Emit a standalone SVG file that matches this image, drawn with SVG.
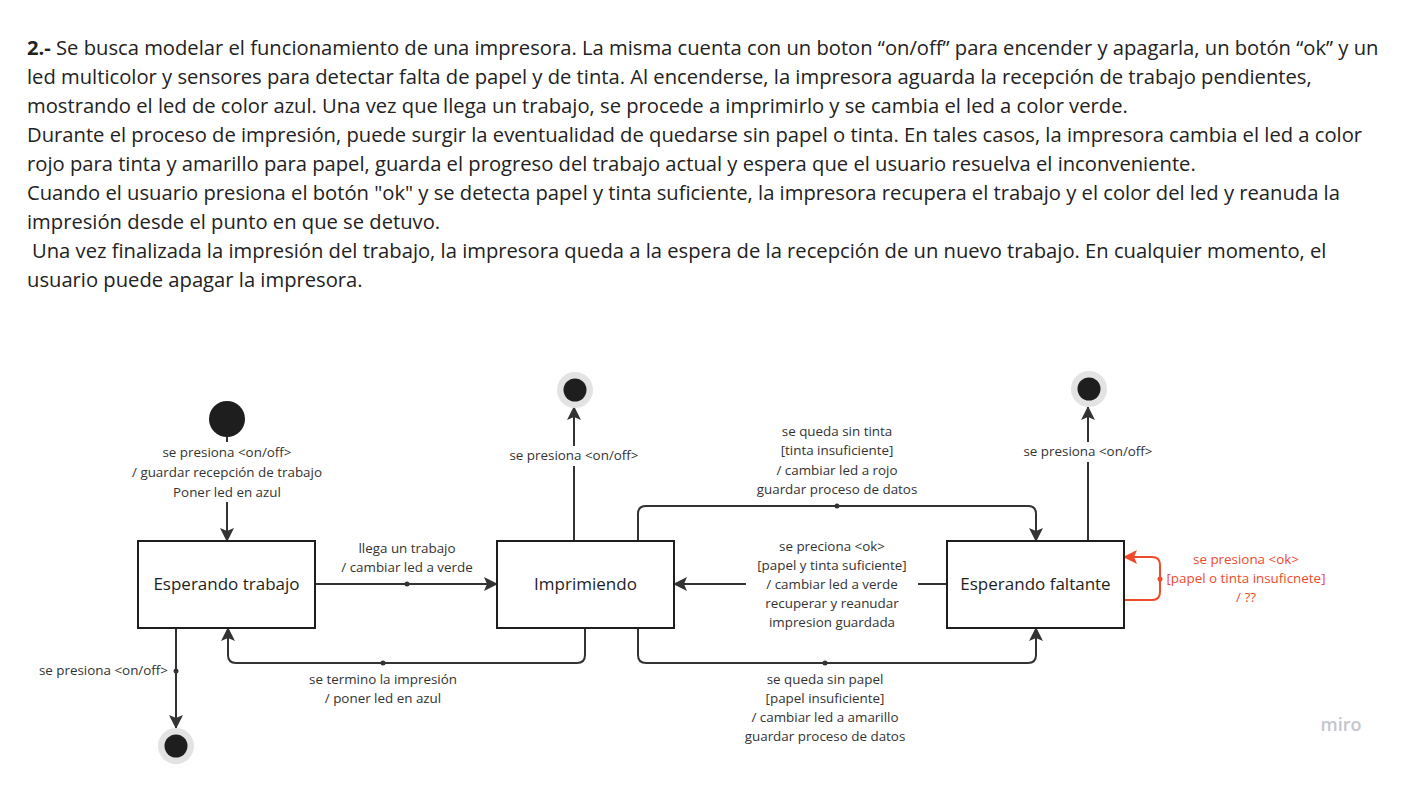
<svg xmlns="http://www.w3.org/2000/svg" width="1421" height="795" viewBox="0 0 1421 795">
<defs>
<style>
.para{font-family:"Open Sans","Liberation Sans",sans-serif;font-size:20.2px;fill:#222;}
.lbl{font-family:"Open Sans","Liberation Sans",sans-serif;font-size:13.4px;fill:#333;text-anchor:middle;}
.red{fill:#ef4a2c;}
.node rect{fill:#fff;stroke:#1e1e1e;stroke-width:2;}
.node text{font-family:"Open Sans","Liberation Sans",sans-serif;font-size:17px;fill:#1e1e1e;text-anchor:middle;}
.conn{fill:none;stroke:#333;stroke-width:2;}
.dot{fill:#333;}
</style>
<marker id="arr" viewBox="0 0 14 14" refX="13" refY="7" markerWidth="14" markerHeight="14" markerUnits="userSpaceOnUse" orient="auto">
<path d="M0,0 L14,7 L0,14 L3,7 Z" fill="#333"/>
</marker>
<marker id="arrRed" viewBox="0 0 14 14" refX="13" refY="7" markerWidth="14" markerHeight="14" markerUnits="userSpaceOnUse" orient="auto">
<path d="M0,0 L14,7 L0,14 L3,7 Z" fill="#ef4a2c"/>
</marker>
</defs>
<rect width="1421" height="795" fill="#fff"/>

<g id="enunciado" class="para">
<text x="27" y="55"><tspan font-weight="bold">2.-</tspan> Se busca modelar el funcionamiento de una impresora. La misma cuenta con un boton “on/off” para encender y apagarla, un botón “ok” y un</text>
<text x="27" y="84">led multicolor y sensores para detectar falta de papel y de tinta. Al encenderse, la impresora aguarda la recepción de trabajo pendientes,</text>
<text x="27" y="113">mostrando el led de color azul. Una vez que llega un trabajo, se procede a imprimirlo y se cambia el led a color verde.</text>
<text x="27" y="142">Durante el proceso de impresión, puede surgir la eventualidad de quedarse sin papel o tinta. En tales casos, la impresora cambia el led a color</text>
<text x="27" y="171">rojo para tinta y amarillo para papel, guarda el progreso del trabajo actual y espera que el usuario resuelva el inconveniente.</text>
<text x="27" y="200">Cuando el usuario presiona el botón "ok" y se detecta papel y tinta suficiente, la impresora recupera el trabajo y el color del led y reanuda la</text>
<text x="27" y="229">impresión desde el punto en que se detuvo.</text>
<text x="32" y="258">Una vez finalizada la impresión del trabajo, la impresora queda a la espera de la recepción de un nuevo trabajo. En cualquier momento, el</text>
<text x="27" y="287">usuario puede apagar la impresora.</text>
</g>

<g id="connectors">
<path class="conn" d="M227,437 V442 M227,502 V541" marker-end="url(#arr)"/>
<path class="conn" d="M574,541 V466 M574,446 V407" marker-end="url(#arr)"/>
<path class="conn" d="M1088,541 V462 M1088,442 V407" marker-end="url(#arr)"/>
<path class="conn" d="M176,628 V728" marker-end="url(#arr)"/>
<path class="conn" d="M315,584 H497" marker-end="url(#arr)"/>
<path class="conn" d="M947,584 H918 M746,584 H674" marker-end="url(#arr)"/>
<path class="conn" d="M585,628 V655 Q585,663 577,663 H236 Q228,663 228,655 V628" marker-end="url(#arr)"/>
<path class="conn" d="M638,541 V514 Q638,506 646,506 H1028 Q1036,506 1036,514 V541" marker-end="url(#arr)"/>
<path class="conn" d="M638,628 V655 Q638,663 646,663 H1028 Q1036,663 1036,655 V628" marker-end="url(#arr)"/>
<path class="conn" style="stroke:#ef4a2c" d="M1124,600 H1152 Q1160,600 1160,592 V565 Q1160,557 1152,557 H1124" marker-end="url(#arrRed)"/>
<circle class="dot" cx="407" cy="584" r="2.5"/>
<circle class="dot" cx="383" cy="663" r="2.5"/>
<circle class="dot" cx="176" cy="671" r="2.5"/>
<circle class="dot" cx="837" cy="506" r="2.5"/>
<circle class="dot" cx="825" cy="663" r="2.5"/>
<circle cx="1160" cy="579" r="2.5" fill="#ef4a2c"/>
<g class="lbl">
<text x="227" y="457">se presiona &lt;on/off&gt;</text>
<text x="227" y="477">/ guardar recepción de trabajo</text>
<text x="227" y="497">Poner led en azul</text>
<text x="574" y="460">se presiona &lt;on/off&gt;</text>
<text x="1088" y="456">se presiona &lt;on/off&gt;</text>
<text x="407" y="553">llega un trabajo</text>
<text x="407" y="572">/ cambiar led a verde</text>
<text x="383" y="684">se termino la impresión</text>
<text x="383" y="703">/ poner led en azul</text>
<text x="168" y="675" style="text-anchor:end">se presiona &lt;on/off&gt;</text>
<text x="837" y="436">se queda sin tinta</text>
<text x="837" y="455">[tinta insuficiente]</text>
<text x="837" y="475">/ cambiar led a rojo</text>
<text x="837" y="494">guardar proceso de datos</text>
<text x="832" y="551">se preciona &lt;ok&gt;</text>
<text x="832" y="570">[papel y tinta suficiente]</text>
<text x="832" y="589">/ cambiar led a verde</text>
<text x="832" y="608">recuperar y reanudar</text>
<text x="832" y="627">impresion guardada</text>
<text x="825" y="684">se queda sin papel</text>
<text x="825" y="703">[papel insuficiente]</text>
<text x="825" y="722">/ cambiar led a amarillo</text>
<text x="825" y="741">guardar proceso de datos</text>
<text class="red" x="1246" y="564">se presiona &lt;ok&gt;</text>
<text class="red" x="1246" y="583">[papel o tinta insuficnete]</text>
<text class="red" x="1246" y="602">/ ??</text>
</g>
</g>

<g id="inicio">
<circle cx="227" cy="419" r="18" fill="#1e1e1e"/>
</g>
<g id="fin-imprimiendo">
<circle cx="575" cy="390" r="18" fill="#e3e3e3"/>
<circle cx="575" cy="390" r="11.5" fill="#1e1e1e"/>
</g>
<g id="fin-faltante">
<circle cx="1089" cy="389" r="18" fill="#e3e3e3"/>
<circle cx="1089" cy="389" r="11.5" fill="#1e1e1e"/>
</g>
<g id="fin-trabajo">
<circle cx="176" cy="746" r="18" fill="#e3e3e3"/>
<circle cx="176" cy="746" r="11.5" fill="#1e1e1e"/>
</g>

<g id="esperando-trabajo" class="node">
<rect x="138" y="541" width="177" height="87"/>
<text x="226.5" y="590">Esperando trabajo</text>
</g>
<g id="imprimiendo" class="node">
<rect x="497" y="541" width="177" height="87"/>
<text x="585.5" y="590">Imprimiendo</text>
</g>
<g id="esperando-faltante" class="node">
<rect x="947" y="541" width="177" height="87"/>
<text x="1035.5" y="590">Esperando faltante</text>
</g>

<text x="1341" y="731" style="font-family:'Open Sans','Liberation Sans',sans-serif;font-size:18px;fill:#c4c6cc;text-anchor:middle;font-weight:600">miro</text>
</svg>
